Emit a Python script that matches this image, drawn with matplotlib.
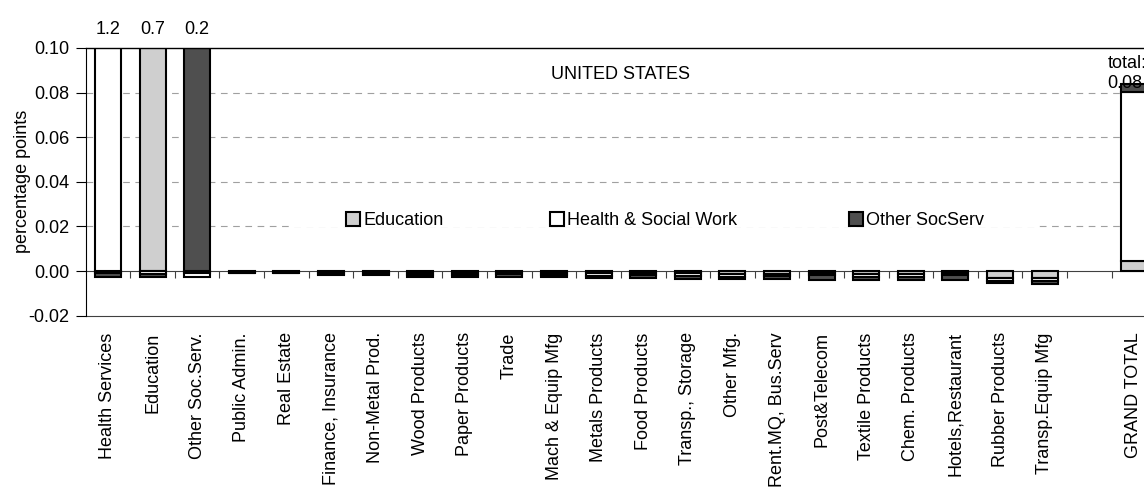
import numpy as np
import matplotlib
matplotlib.use("Agg")
import matplotlib.pyplot as plt
from matplotlib.patches import Patch, Rectangle
from matplotlib.legend import Legend

plt.rcParams['font.family'] = ['Liberation Sans', 'DejaVu Sans']
plt.rcParams['axes.unicode_minus'] = False
FS = 13

# categories (blank slot before the grand total)
categories = ["Health Services", "Education", "Other Soc.Serv.", "Public Admin.",
              "Real Estate", "Finance, Insurance", "Non-Metal Prod.", "Wood Products",
              "Paper Products", "Trade", "Mach & Equip Mfg", "Metals Products",
              "Food Products", "Transp., Storage", "Other Mfg.", "Rent.MQ, Bus.Serv",
              "Post&Telecom", "Textile Products", "Chem. Products", "Hotels,Restaurant",
              "Rubber Products", "Transp.Equip Mfg", "", "GRAND TOTAL"]

edu = [-0.0008, 0.70, -0.0008, -0.0004, -0.0004, -0.0006, -0.0006, -0.0008,
       -0.0008, -0.0006, -0.0008, -0.0010, -0.0008, -0.0010, -0.0012, -0.0011,
       -0.0008, -0.0012, -0.0012, -0.0008, -0.0030, -0.0030, 0.0, 0.0047]
health = [1.20, -0.0012, -0.0017, -0.0004, -0.0004, -0.0008, -0.0008, -0.0011,
          -0.0011, -0.0009, -0.0011, -0.0013, -0.0010, -0.0013, -0.0013, -0.0012,
          -0.0010, -0.0014, -0.0013, -0.0010, -0.0013, -0.0015, 0.0, 0.0755]
other = [-0.0018, -0.0015, 0.20, -0.0002, -0.0002, -0.0004, -0.0004, -0.0006,
         -0.0006, -0.0010, -0.0006, -0.0007, -0.0012, -0.0012, -0.0010, -0.0012,
         -0.0022, -0.0014, -0.0015, -0.0022, -0.0012, -0.0012, 0.0, 0.0036]

series = [("Education", edu, "#cfcfcf"),
          ("Health & Social Work", health, "white"),
          ("Other SocServ", other, "#4f4f4f")]

ymin, ymax = -0.02, 0.10

fig = plt.figure(figsize=(11.44, 4.87), dpi=100)
# axes runs past the right edge of the figure (clipped like the original)
ax = fig.add_axes([0.0749, 0.3518, 0.9357, 0.5497])

x = np.arange(len(categories))
pos_base = np.zeros(len(categories))
neg_base = np.zeros(len(categories))
for name, vals, col in series:
    v = np.array(vals)
    bottoms = np.where(v >= 0, pos_base, neg_base)
    m = v != 0
    ax.bar(x[m], v[m], bottom=bottoms[m], width=0.58, color=col, edgecolor="black",
           linewidth=1.5, zorder=2)
    pos_base = pos_base + np.where(v >= 0, v, 0)
    neg_base = neg_base + np.where(v < 0, v, 0)

ax.set_xlim(-0.5, len(categories) - 0.5)
ax.set_ylim(ymin, ymax)

# values of bars that go off the top
for xi, top in zip(x[:-1], pos_base[:-1]):
    if top > ymax:
        ax.annotate(f"{top:.1f}", xy=(xi, 1), xycoords=("data", "axes fraction"),
                    xytext=(0, 7), textcoords="offset points", ha="center",
                    va="bottom", fontsize=FS)

total = pos_base[-1]
ax.annotate(f"total:\n{total:.2f}", xy=(x[-1], total), xytext=(-19, -6),
            textcoords="offset points", ha="left", va="bottom", fontsize=FS,
            linespacing=1.3, zorder=3)

ax.text(0.5, 0.9, "UNITED STATES", transform=ax.transAxes, ha="center",
        va="center", fontsize=FS)

# grid
ax.set_yticks(np.arange(-0.02, 0.101, 0.02))
ax.yaxis.set_major_formatter(matplotlib.ticker.FormatStrFormatter("%.2f"))
ax.tick_params(axis="y", length=7, width=0.8, labelsize=FS, pad=5)
for yv in np.arange(0.02, 0.09, 0.02):
    ax.axhline(yv, color="#a0a0a0", lw=0.8, ls=(0, (6, 5)), zorder=0.5)

ax.set_ylabel("percentage points", fontsize=FS, labelpad=-2)

# zero line with the category separators
ax.spines["bottom"].set_position(("data", 0))
ax.spines["bottom"].set_color("#404040")
ax.spines["bottom"].set_zorder(1.5)
ax.set_xticks(x[:-1] + 0.5)
ax.tick_params(axis="x", length=5, width=0.8, color="#404040", labelbottom=False)
ax.spines["right"].set_visible(False)
ax.spines["top"].set_linewidth(1.0)

# category labels on the frame bottom
sec = ax.secondary_xaxis("bottom")
sec.set_xticks(x)
sec.set_xticklabels(categories, rotation=90, fontsize=FS, va="top")
sec.tick_params(axis="x", length=0, pad=12)
sec.spines["bottom"].set_color("#404040")

# legend
ax.add_patch(Rectangle((0.193, 0.33), 0.696, 0.05, transform=ax.transAxes,
                       facecolor="white", edgecolor="none", zorder=0.8))
legend_x = [0.2432, 0.4338, 0.7131]
for (name, vals, col), lx in zip(series, legend_x):
    leg = Legend(ax, [Patch(facecolor=col, edgecolor="black", linewidth=1.5)], [name],
                 loc="center left", bbox_to_anchor=(lx, 0.354), frameon=False,
                 fontsize=FS, handlelength=0.75, handleheight=0.75,
                 handletextpad=0.2, borderpad=0, borderaxespad=0)
    ax.add_artist(leg)

fig.savefig("out.png", dpi=100)
